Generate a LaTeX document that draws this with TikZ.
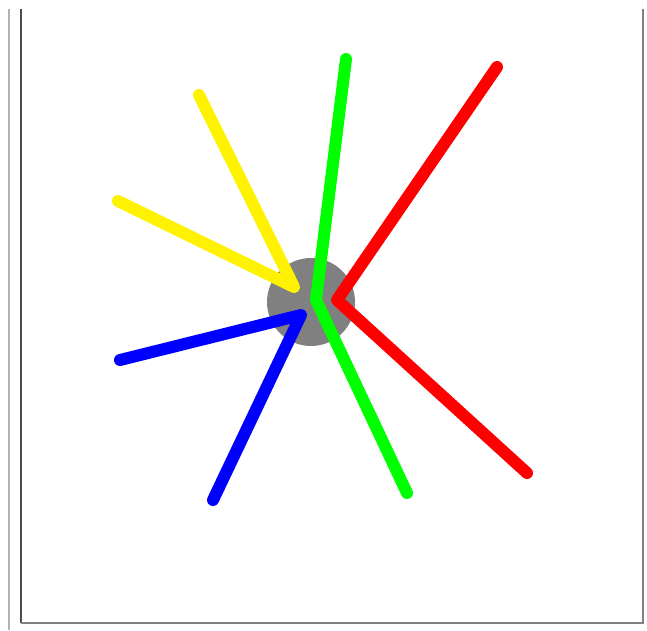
\documentclass[tikz,border=0pt]{standalone}
\usepackage{tikz}
\begin{document}
\begin{tikzpicture}[x=1pt,y=-1pt,
  ray/.style={line width=12pt,line cap=round,line join=round},
  frameline/.style={line width=2pt}]
\useasboundingbox (0,0) rectangle (647,630);
% frame
\coordinate (la) at (9,9); \coordinate (lb) at (9,630);
\coordinate (da) at (21,9); \coordinate (db) at (21,623);
\coordinate (ra) at (643,9); \coordinate (rb) at (643,623);
\draw[frameline,color=gray!60] (la) -- (lb);
\draw[frameline,color=black!70] (da) -- (db);
\draw[line width=2.5pt,color=gray] (db) -- (rb) -- (ra);
% hub
\node[circle,fill=gray,minimum size=88pt,inner sep=0pt] (hub) at (311,302) {};
% points
\coordinate (y1) at (199,95);
\coordinate (y2) at (118,201);
\coordinate (ya) at (294,287);
\coordinate (g1) at (346,59);
\coordinate (gb) at (316,300);
\coordinate (g2) at (407,493);
\coordinate (r1) at (497,67);
\coordinate (rb2) at (337,300);
\coordinate (r2) at (527,473);
\coordinate (b1) at (120,360);
\coordinate (b2) at (213,500);
\coordinate (ba) at (301,315);
% rays
\draw[ray,yellow] (y1) -- (ya) -- (y2);
\draw[ray,blue] (b1) -- (ba) -- (b2);
\draw[ray,red] (r1) -- (rb2) -- (r2);
\draw[ray,green] (g1) -- (gb) -- (g2);
\end{tikzpicture}
\end{document}
